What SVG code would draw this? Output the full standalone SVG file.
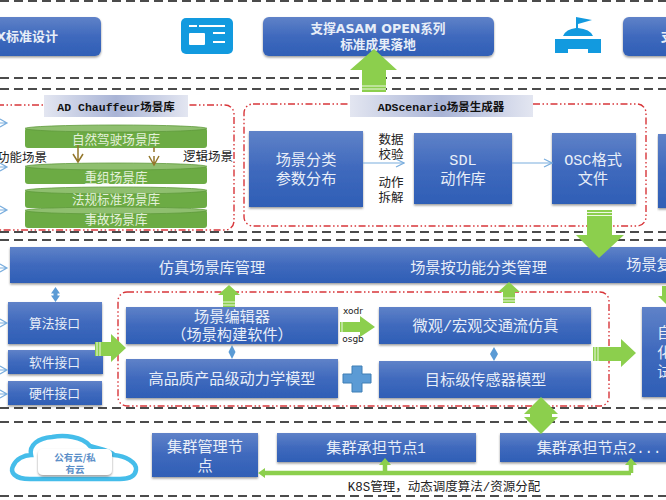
<svg xmlns="http://www.w3.org/2000/svg" width="666" height="500" viewBox="0 0 666 500">
<style>
text{font-family:"Liberation Mono","Noto Sans CJK SC",monospace;text-anchor:middle}
.w{fill:#e8eef8;font-size:15.2px}
.s{fill:#e8eef8;font-size:12.8px}
.t{fill:#e8eef8;font-size:12.6px;font-weight:700;font-family:"DejaVu Sans","Noto Sans CJK SC",sans-serif}
.k{fill:#222;font-size:12.5px}
.g{fill:#e3f0da;font-size:12.6px}
.h{font-size:11.5px;fill:#111;font-weight:700}
.x{font-size:9px;fill:#222;font-family:"DejaVu Sans",sans-serif}
.c{font-size:9.5px;font-weight:700;fill:#5c8fc8;font-family:"Noto Sans CJK SC",sans-serif}
.l{font-size:14px}
.b{fill:url(#blue);filter:url(#sh)}
.rd{fill:none;stroke:#d8363a;stroke-width:1.4;stroke-dasharray:7 2.5 1.5 2.5 1.5 2.5}
.bd{fill:none;stroke:#111;stroke-width:1.5;stroke-dasharray:9 5}
.ga{fill:#8ccf4d}
.st{stroke:#fff;stroke-width:1;fill:none;opacity:.85}
.conn{fill:none;stroke:#7aaede;stroke-width:1.2}
.cy{fill:#6cab44}
.cyt{fill:#8fbf6f;stroke:#5f9a3c;stroke-width:.8}
.dm{fill:#5b9bd5}
.br{fill:none;stroke:#94772b;stroke-width:1.5}
</style>
<defs>
<linearGradient id="blue" x1="0" y1="0" x2="0" y2="1"><stop offset="0" stop-color="#5f82c8"/><stop offset=".5" stop-color="#3f69bd"/><stop offset="1" stop-color="#2f5fb6"/></linearGradient>
<linearGradient id="title" x1="0" y1="0" x2="1" y2="0"><stop offset="0" stop-color="#e3e6f1"/><stop offset=".5" stop-color="#a9b4d6"/><stop offset="1" stop-color="#e3e6f1"/></linearGradient>
<filter id="sh" x="-5%" y="-10%" width="110%" height="125%"><feDropShadow dx="0" dy="1.5" stdDeviation="1" flood-color="#000" flood-opacity=".4"/></filter>
<marker id="open" markerWidth="10" markerHeight="10" refX="9" refY="5" orient="auto" markerUnits="userSpaceOnUse"><path d="M1 1L9 5L1 9" fill="none" stroke="#7aaede" stroke-width="1.2"/></marker>
</defs>
<rect width="666" height="500" fill="#fff"/>
<g id="frames">
<path class="bd" d="M0 1H666M0 78H666M0 89H666M0 232H666M0 240H666M0 408H666M0 422H666M0 496H666"/>
<rect class="rd" x="-12" y="105" width="246" height="125" rx="9"/>
<rect class="rd" x="244" y="104" width="402" height="122" rx="9"/>
<rect class="rd" x="118" y="292" width="491" height="114" rx="9"/>
</g>
<g id="box-top1"><rect class="b" x="-20" y="17" width="121" height="39" rx="6"/><text class="t" x="58" y="41" style="text-anchor:end;font-size:13px">X标准设计</text></g>
<g id="icon1"><rect x="181" y="18" width="52" height="36" rx="5" fill="#129adf"/><rect x="189" y="33" width="16" height="12" rx="1" fill="#fff"/><path d="M189 26H197M199 26H225M213 33H225M213 42H225" stroke="#fff" stroke-width="2.2"/></g>
<g id="box-top2"><rect class="b" x="263" y="17" width="231" height="39" rx="6"/><text class="t" x="378" y="33">支撑ASAM OPEN系列</text><text class="t" x="378" y="49">标准成果落地</text></g>
<g id="icon2"><path d="M555 39H601V53H588V49H568V53H555Z" fill="#129adf"/><path d="M563 36Q566 29 576 28V17L592 20L578 24V28Q590 29 593 36Z" fill="#129adf"/></g>
<g id="box-top3"><rect class="b" x="623" y="17" width="60" height="39" rx="6"/><text class="t" x="667" y="41">支</text></g>
<g id="title1"><rect x="44" y="95" width="144" height="22" fill="url(#title)"/><text class="h" x="116" y="111">AD Chauffeur场景库</text></g>
<g id="title2"><rect x="350" y="95" width="183" height="22" fill="url(#title)"/><text class="h" x="441" y="111">ADScenario场景生成器</text></g>
<g id="cyl1"><rect class="cy" x="25" y="128" width="182" height="20" rx="3"/><ellipse class="cyt" cx="116" cy="128.5" rx="91" ry="3.5"/><text class="g" x="116" y="144">自然驾驶场景库</text></g>
<g id="cyl2"><rect class="cy" x="25" y="166" width="182" height="18" rx="3"/><ellipse class="cyt" cx="116" cy="166.5" rx="91" ry="3.5"/><text class="g" x="116" y="181.5">重组场景库</text></g>
<g id="cyl3"><rect class="cy" x="25" y="190" width="182" height="18" rx="3"/><ellipse class="cyt" cx="116" cy="190.5" rx="91" ry="3.5"/><text class="g" x="116" y="204">法规标准场景库</text></g>
<g id="cyl4"><rect class="cy" x="25" y="210" width="182" height="18" rx="3"/><ellipse class="cyt" cx="116" cy="210.5" rx="91" ry="3.5"/><text class="g" x="116" y="224">事故场景库</text></g>
<g id="labels"><text class="k" x="22" y="162">功能场景</text><text class="k" x="208" y="161">逻辑场景</text>
<text class="k" x="391" y="143.5">数据</text><text class="k" x="391" y="158.5">校验</text><text class="k" x="391" y="186.5">动作</text><text class="k" x="391" y="201.5">拆解</text>
<text class="x" x="353" y="314">xodr</text><text class="x" x="353" y="342">osgb</text>
<text class="k" x="444" y="491">K8S管理，动态调度算法/资源分配</text></g>
<g id="n-param"><rect class="b" x="249" y="131" width="114" height="76"/><text class="w" x="306" y="165">场景分类</text><text class="w" x="306" y="184">参数分布</text></g>
<g id="n-sdl"><rect class="b" x="414" y="133" width="98" height="71"/><text class="w" x="463" y="164.5">SDL</text><text class="w" x="463" y="183.5">动作库</text></g>
<g id="n-osc"><rect class="b" x="552" y="133" width="84" height="71"/><text class="w" x="593" y="165">OSC格式</text><text class="w" x="593" y="184">文件</text></g>
<g id="n-right"><rect class="b" x="658" y="134" width="20" height="74"/></g>
<g id="n-sim"><rect class="b" x="10" y="247" width="670" height="36"/><text class="w" x="212" y="273">仿真场景库管理</text><text class="w" x="478.5" y="273">场景按功能分类管理</text><text class="w" x="649" y="270">场景复</text></g>
<g id="n-algo"><rect class="b" x="8" y="302" width="94" height="42"/><text class="s" x="54.5" y="328">算法接口</text></g>
<g id="n-soft"><rect class="b" x="8" y="350" width="95" height="24"/><text class="s" x="54.5" y="367">软件接口</text></g>
<g id="n-hard"><rect class="b" x="8" y="381" width="94" height="24"/><text class="s" x="54.5" y="398">硬件接口</text></g>
<g id="n-edit"><rect class="b" x="126" y="307" width="212" height="37"/><text class="w" x="232" y="322">场景编辑器</text><text class="w" x="232" y="340">（场景构建软件）</text></g>
<g id="n-dyn"><rect class="b" x="126" y="359" width="212" height="39"/><text class="w" x="232" y="383.5">高品质产品级动力学模型</text></g>
<g id="n-traffic"><rect class="b" x="379" y="307" width="212" height="37"/><text class="w" x="485.5" y="330.5">微观/宏观交通流仿真</text></g>
<g id="n-sensor"><rect class="b" x="379" y="361" width="212" height="37"/><text class="w" x="485.5" y="385">目标级传感器模型</text></g>
<g id="n-auto"><rect class="b" x="642" y="307" width="40" height="90"/><text class="w" x="664.5" y="338">自</text><text class="w" x="664.5" y="358">化</text><text class="w" x="664.5" y="377">试</text></g>
<g id="cloud"><path d="M30 479C14 479 10 472 13 466C16 459 24 455 31 455C29 445 38 438 52 437C64 435 82 436 90 446C100 449 110 450 114 455C125 456 137 462 136 470C135 477 128 479 120 479Z" fill="#fff" stroke="#45bdea" stroke-width="4.5"/><rect x="38" y="449" width="74" height="26" rx="5" fill="#fff" filter="url(#sh)"/><text class="c" x="75" y="460.5">公有云/私</text><text class="c" x="75" y="473">有云</text></g>
<g id="n-mgr"><rect class="b" x="152" y="433" width="106" height="44"/><text class="w" x="205" y="451.5">集群管理节</text><text class="w" x="205" y="470.5">点</text></g>
<g id="n-c1"><rect class="b" x="277" y="433" width="199" height="29"/><text class="w" x="376" y="452.5">集群承担节点<tspan class="l">1</tspan></text></g>
<g id="n-c2"><rect class="b" x="500" y="433" width="180" height="29"/><text class="w" x="599" y="452.5">集群承担节点<tspan class="l">2...</tspan></text></g>
<g id="connectors">
<path class="conn" d="M363 163H404" marker-end="url(#open)"/>
<path class="conn" d="M512 163H552" marker-end="url(#open)"/>
<path class="conn" d="M0 119L7 123L0 127M0 123H6M0 163L7 167L0 171M0 167H6M0 206L7 210L0 214M0 210H6M0 264L7 268L0 272M0 268H6M0 319L7 323L0 327M0 323H6M0 366L7 370L0 374M0 370H6M0 390L7 394L0 398M0 394H6"/>
<path class="br" d="M78 145V161M73 154L78 162L83 154M154 147V152M154 156V164M149 156L154 165L159 156"/>
<path class="ga" d="M362 92V70H350L374 49L397 70H386V92Z"/><path class="st" d="M362 86H386M362 89H386"/>
<path class="ga" d="M587 210H612V235H624L599 258L576 235H587Z"/><path class="st" d="M587 212.5H612M587 215.5H612"/>
<path class="ga" d="M95 342H111V334L126 348L111 362V356H95Z"/><path class="st" d="M97 342V356M100 342V356"/>
<path class="ga" d="M223 307V295H218L229 285L240 295H235V307Z"/><path class="st" d="M223 302H235M223 305H235"/>
<path class="ga" d="M503 303V292H498L509 282L520 292H515V303Z"/><path class="st" d="M503 298H515M503 301H515"/>
<path class="ga" d="M340 322H360V316L375 327L360 337V332H340Z"/><path class="st" d="M342 322V332"/>
<path class="ga" d="M593 347H621V339L636 353L621 367V361H593Z"/><path class="st" d="M595 347V361M598 347V361"/>
<path class="ga" d="M541 397L558 414H552V417H558L541 434L524 417H530V414H524Z"/>
<path class="ga" d="M662 286H670V296H674L666 304L658 296H662Z"/>
<path d="M262 473H631M385 473V462M631 473V462" fill="none" stroke="#8ccf4d" stroke-width="4.5"/>
<path class="ga" d="M258 473L265 468V478ZM385 458L391 465H379ZM631 458L637 465H625Z"/>
<path class="dm" d="M55.5 287L60 293.5H57.5V295.5H60L55.5 302L51 295.5H53.5V293.5H51Z"/>
<path class="dm" d="M232 345L235.5 352L232 359L228.5 352Z"/>
<path class="dm" d="M494 347L498 354L494 361L490 354Z"/>
<path d="M352 366H362V374H371V383H362V392H352V383H343V374H352Z" fill="#5b9bd5" stroke="#3f7fb5"/>
</g>
</svg>
